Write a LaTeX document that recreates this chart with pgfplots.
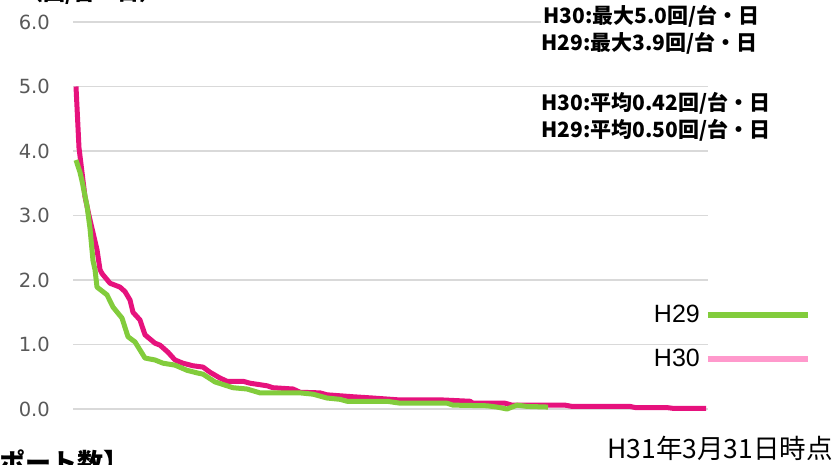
\documentclass[border=0pt]{standalone}
\usepackage{fontspec}
\usepackage{pgfplots}
\pgfplotsset{compat=1.18}
\setmainfont{DejaVu Sans}
\newfontfamily\jp{Noto Sans CJK JP}
\newfontfamily\arial{Liberation Sans}

\definecolor{h30}{HTML}{E6127D}
\definecolor{h29}{HTML}{82CC3C}
\definecolor{h30leg}{HTML}{FF99CC}
\definecolor{gridc}{HTML}{D9D9D9}
\definecolor{tickc}{HTML}{595959}

% usage per charger (times / unit / day), chargers sorted by rank
\pgfplotstableread{
x y
0 5.00
3 4.05
9 3.29
13 3.00
21 2.47
24 2.16
26 2.10
34 1.95
44 1.89
49 1.82
54 1.69
57 1.50
64 1.38
69 1.15
79 1.02
84 0.99
92 0.88
99 0.76
107 0.71
117 0.67
127 0.65
134 0.57
144 0.48
151 0.43
167 0.43
174 0.40
191 0.36
197 0.33
217 0.31
224 0.26
244 0.25
251 0.22
277 0.19
297 0.17
324 0.14
367 0.14
394 0.12
397 0.09
429 0.09
436 0.06
489 0.06
496 0.04
554 0.04
560 0.02
592 0.02
597 0.01
630 0.01
}\hthirty

\pgfplotstableread{
x y
0 3.86
4 3.67
6.5 3.50
11 3.15
14 2.80
17 2.30
19 2.16
21 1.89
31 1.77
37 1.58
46 1.41
52 1.12
59 1.04
69 0.79
79 0.76
87 0.71
99 0.68
111 0.60
121 0.56
127 0.54
139 0.42
151 0.36
157 0.33
171 0.31
184 0.25
224 0.25
237 0.23
251 0.17
264 0.15
271 0.12
311 0.12
324 0.09
371 0.09
377 0.06
411 0.05
421 0.03
431 0.00
441 0.06
451 0.04
472 0.03
}\htwentynine

\begin{document}
\begin{tikzpicture}
\path[use as bounding box] (-73bp,-56bp) rectangle (763bp,409bp);
\clip (-73bp,-56bp) rectangle (763bp,409bp);
\begin{axis}[
  at={(0bp,0bp)}, anchor=south west,
  scale only axis, width=635bp, height=387bp,
  xmin=-3, xmax=632, ymin=0, ymax=6,
  ytick={0,1,...,6}, xtick=\empty,
  axis line style={draw=none}, major tick length=0pt,
  ymajorgrids, grid style={line width=1.5bp, color=gridc},
  clip=false,
  yticklabel style={inner sep=0pt, anchor=east, xshift=-23bp,
    color=tickc, font=\fontsize{19.5bp}{22bp}\selectfont,
    /pgf/number format/.cd, fixed, fixed zerofill, precision=1, assume math mode=true},
  legend plot pos=right,
  legend cell align=right,
  legend image code/.code={\draw[#1] (0bp,0bp) -- (100bp,0bp);},
  legend style={draw=none, fill=none, inner sep=0pt,
    at={(738bp,106bp)}, anchor=north east,
    row sep=21bp, column sep=3bp,
    font=\arial\fontsize{25bp}{28bp}\selectfont},
]
\addlegendimage{h29, line width=6bp}
\addlegendimage{h30leg, line width=6bp}
\addplot[h30, line width=5bp, line join=round, forget plot] table {\hthirty};
\addplot[h29, line width=5bp, line join=round, forget plot] table {\htwentynine};
\legend{H29, H30}
\end{axis}

% annotations
\begin{scope}[every node/.style={inner sep=0pt, anchor=base west,
    font=\jp\bfseries\fontsize{21bp}{25bp}\selectfont}]
\node[fill=white, inner sep=2bp] at (468bp,385.7bp) {H30:最大5.0回/台・日};
\node at (468bp,358.3bp) {H29:最大3.9回/台・日};
\node at (468bp,298.3bp) {H30:平均0.42回/台・日};
\node at (468bp,271.3bp) {H29:平均0.50回/台・日};
\end{scope}

\node[inner sep=0pt, anchor=base west, font=\jp\bfseries\fontsize{22bp}{26bp}\selectfont]
  at (-52bp,408bp) {（回/台・日）};
\node[inner sep=0pt, anchor=base east, font=\jp\fontsize{26.5bp}{30bp}\selectfont]
  at (760bp,-49bp) {H31年3月31日時点};
\node[inner sep=0pt, anchor=base east, font=\jp\bfseries\fontsize{26bp}{30bp}\selectfont]
  at (57bp,-63bp) {【急速充電器のポート数】};
\end{tikzpicture}
\end{document}
